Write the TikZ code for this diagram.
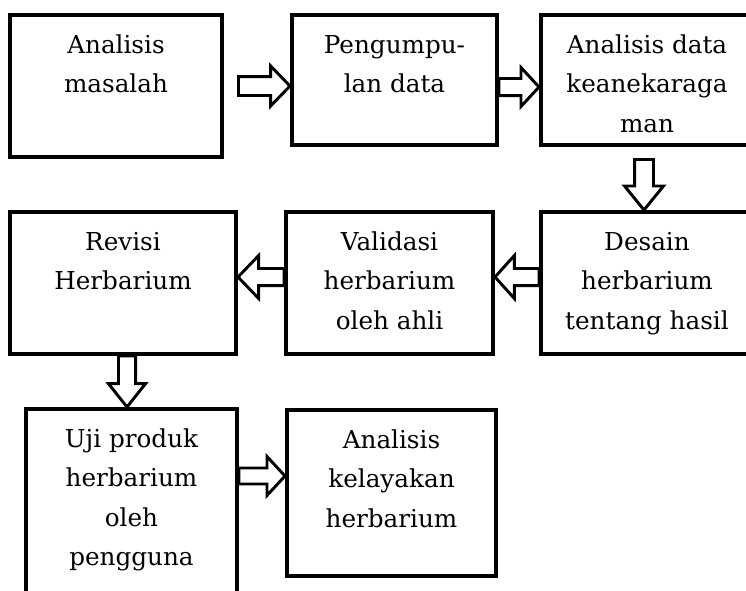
\documentclass[tikz,border=0pt]{standalone}
\usepackage{fontspec}
\setmainfont{DejaVu Serif}
\usetikzlibrary{calc}
\tikzset{
  boxnode/.style={draw, line width=3pt, rectangle, inner sep=0pt},
  lbl/.style={anchor=north, align=center, inner sep=0pt, font={\fontsize{18.5pt}{29.6pt}\selectfont}},
  barrow/.style={draw, fill=white, line width=2.2pt, line join=miter},
}
% #1 start, #2 tip, #3 half shaft width, #4 half head width, #5 head length
\newcommand\blockarr[5]{%
  \coordinate (bahead) at ($(#2)!#5!(#1)$);
  \draw[barrow] ($(#1)!#3!90:(#2)$) -- ($(bahead)!#3!90:(#2)$) -- ($(bahead)!#4!90:(#2)$)
    -- (#2) -- ($(bahead)!#4!-90:(#2)$) -- ($(bahead)!#3!-90:(#2)$) -- ($(#1)!#3!-90:(#2)$) -- cycle;
}
\begin{document}
\begin{tikzpicture}[x=0.75pt,y=-0.75pt]
\fill[white] (0,0) rectangle (746,590);
\useasboundingbox (0,0) rectangle (746,590);

% boxes
\node[boxnode, minimum width=159pt, minimum height=106.5pt] (b1) at (116,86) {};
\node[boxnode, minimum width=153.75pt, minimum height=97.5pt] (b2) at (394.5,80) {};
\node[boxnode, minimum width=159pt, minimum height=97.5pt] (b3) at (647,80) {};
\node[boxnode, minimum width=169.5pt, minimum height=106.5pt] (b4) at (123,283) {};
\node[boxnode, minimum width=155.25pt, minimum height=106.5pt] (b5) at (389.5,283) {};
\node[boxnode, minimum width=159pt, minimum height=106.5pt] (b6) at (647,283) {};
\node[boxnode, minimum width=158.25pt, minimum height=171.75pt] (b7) at (131.5,523.5) {};
\node[boxnode, minimum width=156.75pt, minimum height=124.5pt] (b8) at (391.5,493) {};

% texts
\node[lbl] (t1) at ([yshift=-9.3pt]b1.north) {\strut Analisis\\masalah};
\node[lbl] (t2) at ([yshift=-9.3pt]b2.north) {\strut Pengumpu-\\lan data};
\node[lbl] (t3) at ([yshift=-9.3pt]b3.north) {\strut Analisis data\\keanekaraga\\man};
\node[lbl] (t4) at ([yshift=-9.3pt]b4.north) {\strut Revisi\\Herbarium};
\node[lbl] (t5) at ([yshift=-9.3pt]b5.north) {\strut Validasi\\herbarium\\oleh ahli};
\node[lbl] (t6) at ([yshift=-9.3pt]b6.north) {\strut Desain\\herbarium\\tentang hasil};
\node[lbl] (t7) at ([yshift=-9.3pt]b7.north) {\strut Uji produk\\herbarium\\oleh\\pengguna};
\node[lbl] (t8) at ([yshift=-9.3pt]b8.north) {\strut Analisis\\kelayakan\\herbarium};

% arrow end points
\coordinate (r1s) at (238.5,86);
\coordinate (r1t) at (b2.west |- r1s);
\coordinate (r2s) at (b2.east |- 0,87);
\coordinate (r2t) at (b3.west |- r2s);
\coordinate (d1s) at (644,159.5);
\coordinate (d1t) at (b6.north -| d1s);
\coordinate (l1s) at (b6.west |- 0,277);
\coordinate (l1t) at (b5.east |- l1s);
\coordinate (l2s) at (b5.west |- 0,277);
\coordinate (l2t) at (b4.east |- l2s);
\coordinate (d2s) at (b4.south -| 127,0);
\coordinate (d2t) at (b7.north -| d2s);
\coordinate (r3s) at (b7.east |- 0,476);
\coordinate (r3t) at (b8.west |- r3s);

% block arrows
\blockarr{r1s}{r1t}{7.1pt}{15pt}{14.5pt}
\blockarr{r2s}{r2t}{6.4pt}{14.6pt}{13.5pt}
\blockarr{d1s}{d1t}{7.1pt}{14.6pt}{18pt}
\blockarr{l1s}{l1t}{6.4pt}{16.1pt}{14.5pt}
\blockarr{l2s}{l2t}{6.4pt}{16.1pt}{15.5pt}
\blockarr{d2s}{d2t}{6.4pt}{13.9pt}{17.5pt}
\blockarr{r3s}{r3t}{6pt}{14.6pt}{13.5pt}
\end{tikzpicture}
\end{document}
